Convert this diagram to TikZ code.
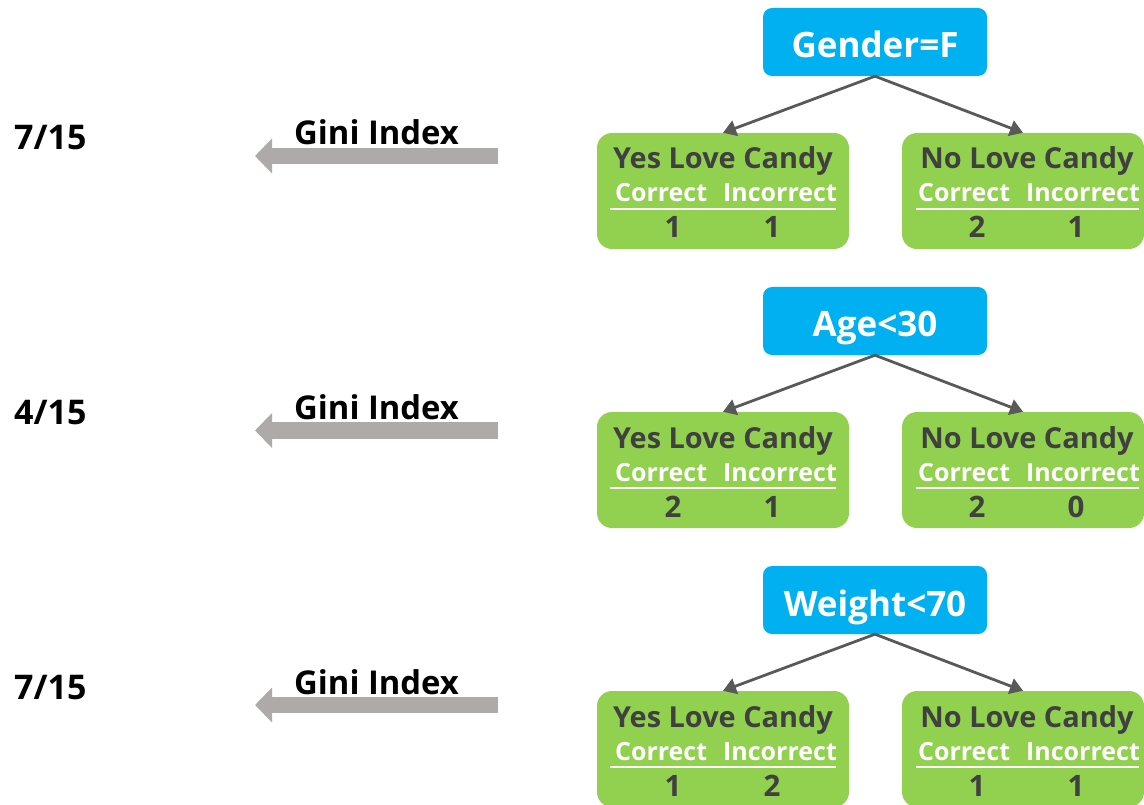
\documentclass[tikz,border=0pt]{standalone}
\usepackage{fontspec}
\setmainfont{Open Sans}
\usetikzlibrary{arrows.meta}
\definecolor{cblue}{HTML}{00B0F0}
\definecolor{cgreen}{HTML}{92D050}
\definecolor{cdark}{HTML}{404040}
\definecolor{carrow}{HTML}{595959}
\definecolor{cgray}{HTML}{AEAAAA}
\tikzset{
  cond/.style={fill=cblue, rounded corners=9pt, minimum width=224pt, minimum height=68pt, inner sep=0pt},
  condtxt/.style={text=white, font=\fontsize{35}{40}\selectfont\bfseries, anchor=base, inner sep=0pt},
  leaf/.style={fill=cgreen, rounded corners=15pt, minimum height=116pt, inner sep=0pt},
  ttl/.style={text=cdark, font=\fontsize{28.9}{32}\selectfont\bfseries, anchor=base, inner sep=0pt},
  sub/.style={text=white, font=\fontsize{25}{28}\selectfont\bfseries, anchor=base, inner sep=0pt},
  num/.style={text=cdark, font=\fontsize{29.5}{32}\selectfont\bfseries, anchor=base, inner sep=0pt},
  sepline/.style={draw=white, line width=1.5pt},
  conn/.style={draw=carrow, line width=2.8pt, -{Triangle[length=13pt,width=16pt]}},
  gini/.style={text=black, font=\fontsize{32.8}{36}\selectfont\bfseries, anchor=base west, inner sep=0pt},
  frac/.style={text=black, font=\fontsize{34}{38}\selectfont\bfseries, anchor=base west, inner sep=0pt},
  garrow/.style={draw=cgray, line width=16.5pt, -{Triangle[length=17pt,width=34pt]}},
}
\newcommand\splittree[9]{%
  % #1 id, #2 right yoff, #3 left yoff, #4 cond, #5 #6 left nums, #7 #8 right nums, #9 fraction
  \begin{scope}[yshift=-#2pt]
    \node[cond] (c#1) at (875,42) {};
    \node[condtxt] (ct#1) at (875,58) {#4};
    \node[leaf, minimum width=252pt] (l#1) at (723,191) {};
    \node[leaf, minimum width=242pt] (r#1) at (1023,191) {};
    \node[ttl] (lt#1) at (723,169) {Yes Love Candy};
    \node[sub] (ls#1) at (726,202) {Correct\hspace{16pt}Incorrect};
    \node[num] (ln#1a) at (673,238) {#5};
    \node[num] (ln#1b) at (772,238) {#6};
    \node[ttl] (rt#1) at (1027,169) {No Love Candy};
    \node[sub] (rs#1) at (1029,202) {Correct\hspace{16pt}Incorrect};
    \node[num] (rn#1a) at (977,238) {#7};
    \node[num] (rn#1b) at (1076,238) {#8};
    \draw[sepline] (610,209) -- (836,209);
    \draw[sepline] (916,209) -- (1139,209);
    \draw[conn] (c#1.south) -- (l#1.north);
    \draw[conn] (c#1.south) -- (r#1.north);
  \end{scope}
  \begin{scope}[yshift=-#3pt]
    \node[frac] (f#1) at (14,150) {#9};
    \node[gini] (g#1) at (294,145) {Gini Index};
    \coordinate (gs#1) at (497.5,156);
    \coordinate (ge#1) at (255,156);
    \draw[garrow] (gs#1) -- (ge#1);
  \end{scope}
}
\begin{document}
\begin{tikzpicture}[x=1pt,y=-1pt]
  \useasboundingbox (0,0) rectangle (1144,805);
  \splittree{1}{0}{0}{Gender=F}{1}{1}{2}{1}{7/15}
  \splittree{2}{279}{274.5}{Age<30}{2}{1}{2}{0}{4/15}
  \splittree{3}{558}{549}{Weight<70}{1}{2}{1}{1}{7/15}
\end{tikzpicture}
\end{document}
